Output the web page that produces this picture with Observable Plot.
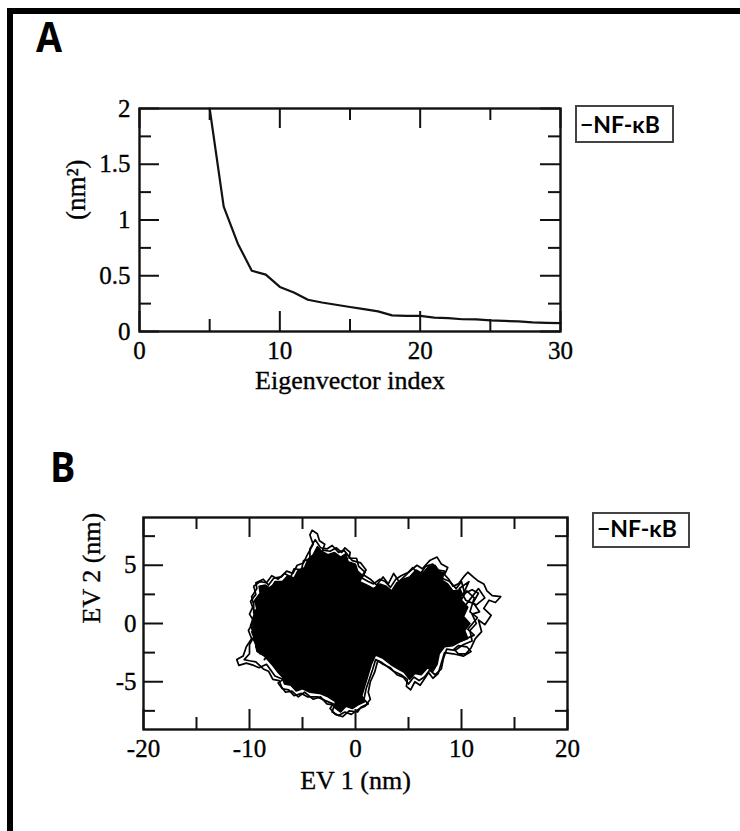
<!DOCTYPE html>
<html><head><meta charset="utf-8">
<script src="https://cdn.jsdelivr.net/npm/d3@7"></script>
<script src="https://cdn.jsdelivr.net/npm/@observablehq/plot@0.6"></script>
<style>
html,body{margin:0;padding:0;background:#fff;width:740px;height:831px;overflow:hidden;}
#page{position:relative;width:740px;height:831px;overflow:hidden;}
#frame{position:absolute;left:7px;top:8px;width:800px;height:900px;border-top:6px solid #000;border-left:6px solid #000;box-sizing:border-box;}
#page svg.plot{position:absolute;left:0;}
#overlay{position:absolute;left:0;top:0;}
</style>
</head><body>
<div id="page"><div id="frame"></div></div>
<script>
// ---------- Panel A data: eigenvalues ----------
const aIndex = [5,6,7,8,9,10,11,12,13,14,15,16,17,18,19,20,21,22,23,24,25,26,27,28,29,30];
const aValue = [2.0,1.12,0.79,0.545,0.51,0.40,0.35,0.285,0.26,0.24,0.22,0.20,0.18,0.145,0.14,0.14,0.125,0.12,0.11,0.108,0.10,0.095,0.09,0.082,0.078,0.075];
const aXMajor = [0,10,20,30];
const aXLabels = ["0","10","20","30"];
const aXMinor = [5,15,25];
const aYMajor = [0,0.5,1,1.5,2];
const aYLabels = ["0","0.5","1","1.5","2"];
const aYMinor = [0.25,0.75,1.25,1.75];
const aXTitle = "Eigenvector index";
const aYTitle = "(nm\u00B2)";

// ---------- Panel B data: projection on EV1/EV2 ----------
const bCoreX = [-9.7,-9.3,-9.5,-9.0,-9.1,-8.5,-8.0,-7.6,-6.9,-6.4,-5.8,-5.4,-4.8,-4.5,-4.0,-3.6,-3.2,-2.6,-2.0,-1.4,-0.9,-0.7,0.0,0.2,0.7,0.4,1.1,1.7,2.3,2.9,3.4,3.9,4.5,5.1,5.7,6.3,6.9,7.5,7.9,8.3,8.2,8.7,9.2,9.9,10.0,10.6,10.2,10.8,10.3,10.6,9.8,9.2,8.4,7.9,7.7,7.3,6.8,6.2,5.6,5.1,4.6,4.0,3.3,2.6,1.9,1.5,1.2,0.9,0.6,0.9,0.2,-0.3,-0.9,-1.4,-2.0,-1.9,-2.6,-3.4,-4.3,-5.0,-5.6,-6.1,-6.7,-6.9,-7.3,-7.8,-8.6,-9.3,-9.5,-9.8];
const bCoreY = [0.4,1.2,2.0,2.6,3.2,3.3,3.0,3.6,3.6,4.1,3.9,4.6,4.8,5.5,5.9,6.6,6.2,5.9,6.1,5.7,6.0,5.3,5.1,4.5,4.1,3.6,3.3,3.0,3.4,3.2,2.8,3.5,3.8,4.0,4.6,4.3,4.9,5.0,4.5,4.3,3.7,3.4,2.8,2.9,2.0,1.4,0.6,0.0,-0.6,-1.3,-1.6,-1.9,-2.0,-2.6,-3.5,-4.1,-3.8,-4.4,-4.3,-4.8,-4.2,-3.9,-3.5,-3.0,-2.7,-3.5,-4.4,-5.3,-6.2,-6.7,-7.0,-7.3,-7.1,-7.6,-7.2,-6.7,-6.3,-6.0,-5.9,-5.6,-5.8,-5.3,-5.2,-4.6,-4.2,-3.6,-2.8,-2.4,-1.4,-0.7];
const bRingX = [-9.9,-9.5,-9.9,-9.4,-9.6,-9.0,-8.4,-7.9,-7.3,-6.7,-6.1,-5.8,-5.1,-4.9,-4.3,-4.3,-3.8,-3.3,-2.7,-2.2,-1.6,-1.1,-0.3,0.5,1.0,0.7,1.4,2.0,2.6,3.1,3.6,4.1,4.8,5.4,6.0,6.6,7.3,7.6,8.4,8.1,8.9,9.5,10.0,10.3,11.0,11.6,11.1,11.7,11.0,11.4,10.8,11.0,10.2,9.4,8.6,8.3,8.1,7.5,7.0,6.5,6.0,5.5,5.0,4.5,3.9,3.3,2.6,2.1,1.8,1.4,1.2,1.4,0.9,0.4,-0.4,-1.0,-1.6,-2.2,-2.0,-2.7,-3.3,-4.0,-4.8,-5.4,-6.0,-6.6,-7.0,-7.2,-7.8,-8.2,-8.7,-9.4,-10.0,-10.5,-10.0,-10.0,-9.5,-9.9];
const bRingY = [-0.2,0.9,1.9,2.5,3.2,3.6,3.5,4.1,3.8,4.3,4.0,4.7,4.6,5.4,5.5,6.4,7.2,6.5,6.4,6.7,6.1,6.3,5.4,5.2,4.6,4.2,3.8,3.3,4.0,3.4,4.3,3.6,4.2,4.8,4.1,4.9,5.1,4.6,4.5,3.9,3.6,3.0,3.6,2.6,2.9,2.6,1.8,1.0,0.8,0.0,-0.6,-1.5,-1.8,-2.3,-2.2,-3.0,-3.9,-4.4,-4.0,-4.6,-4.9,-4.6,-5.2,-4.6,-4.4,-3.8,-3.5,-3.2,-4.2,-5.0,-5.9,-6.5,-7.1,-7.3,-7.8,-7.6,-7.9,-7.6,-7.0,-6.9,-6.3,-6.5,-5.9,-6.3,-5.8,-5.9,-5.4,-4.9,-4.8,-4.1,-3.9,-3.3,-3.2,-3.1,-2.6,-1.8,-1.0,-0.2];
const bTrajX = [-9.6,-10.0,-9.6,-9.8,-9.3,-9.4,-8.7,-8.2,-7.7,-7.0,-6.5,-5.9,-5.5,-4.9,-4.6,-4.0,-4.3,-4.1,-3.6,-3.4,-2.9,-3.1,-2.4,-1.8,-1.3,-1.0,-0.5,-0.6,0.1,0.3,0.9,0.6,1.2,1.7,2.3,2.8,3.3,3.8,4.3,5.0,5.8,6.3,7.0,7.7,8.1,8.7,8.4,8.8,9.2,9.7,10.2,10.6,11.1,11.5,12.1,12.4,12.9,13.7,13.2,12.6,12.1,12.8,12.2,11.6,11.9,11.3,10.9,10.4,9.7,9.3,9.7,10.5,10.9,10.2,9.2,8.4,8.1,7.8,7.3,6.9,6.4,6.1,5.6,5.2,4.8,4.9,4.3,3.6,3.0,2.4,1.9,1.6,1.3,1.0,0.8,1.2,0.5,0.2,-0.6,-1.2,-1.9,-2.4,-2.1,-2.9,-3.6,-4.5,-5.1,-5.8,-6.3,-6.9,-7.3,-6.8,-7.6,-8.0,-8.4,-9.1,-9.6,-10.3,-11.0,-11.2,-10.6,-10.3,-9.8,-10.1,-9.6,-9.0,-8.5,-8.9,-8.2,-8.6,-7.9,-8.4,-9.0,-9.4,-9.0,-9.6,-9.3,-9.6,-9.2,-9.6,-9.6,-8.8,-7.8,-8.4,-7.6,-6.8,-7.4,-8.1,-7.3];
const bTrajY = [0.2,0.8,1.6,2.3,3.0,3.5,3.8,3.3,3.9,4.0,4.5,4.3,5.0,5.2,5.8,6.8,7.6,8.0,7.7,7.1,6.8,6.3,6.2,6.5,6.1,6.5,6.1,5.6,5.6,4.9,4.4,3.9,3.6,3.4,3.8,3.6,3.1,3.8,4.1,4.4,5.0,4.7,5.4,5.7,5.1,4.8,4.2,3.8,3.2,3.4,4.0,4.4,4.0,3.7,3.4,2.8,2.4,2.3,1.8,2.0,1.3,0.7,-0.1,0.3,-0.7,-1.3,-2.1,-2.6,-2.6,-2.2,-1.9,-2.0,-2.4,-2.8,-2.6,-2.5,-3.4,-4.3,-4.7,-4.2,-4.9,-5.3,-5.0,-5.7,-5.4,-4.8,-4.4,-4.1,-3.7,-3.3,-3.1,-4.0,-4.8,-5.6,-6.5,-6.9,-7.2,-7.6,-7.5,-8.0,-7.8,-7.3,-6.9,-6.6,-6.3,-6.3,-6.0,-6.2,-5.7,-5.6,-5.1,-4.8,-4.5,-4.0,-3.5,-3.8,-3.6,-3.4,-3.6,-3.1,-2.8,-2.0,-1.3,-0.6,0.2,-0.5,-1.1,-2.0,-2.6,-3.1,-2.4,-1.6,-1.0,-2.0,-2.6,-1.4,-0.4,0.6,1.4,0.9,1.8,2.6,2.0,2.9,3.4,2.6,3.1,2.2,2.8];
const bLoopX = [9.6,10.5,11.2,10.8,11.5,10.6,11.2,10.2,9.5,9.9,10.4,11.6,12.2,11.4,10.4,9.8,10.7,10.1,9.4];
const bLoopY = [1.5,2.8,2.2,1.0,0.5,-0.5,-1.0,-1.4,-0.8,0.4,1.6,3.0,2.2,1.6,2.0,3.0,3.6,2.4,2.6];
const bXMajor = [-20,-10,0,10,20];
const bXLabels = ["-20","-10","0","10","20"];
const bXMinor = [-15,-5,5,15];
const bYMajor = [-5,0,5];
const bYLabels = ["-5","0","5"];
const bYMinor = [-7.5,-2.5,2.5,7.5];
const bXTitle = "EV 1 (nm)";
const bYTitle = "EV 2 (nm)";
const legendLabel = "\u2212NF-\u03BAB";

const serif = "'Liberation Serif','Times New Roman',serif";
const ink = "#111";

function ticks(fw, fh, xMaj, xMin, yMaj, yMin) {
  const L = 20, l = 12, sw = 2;
  return [
    Plot.ruleX(xMaj, {x: d => d, insetTop: fh - L, stroke: ink, strokeWidth: sw}),
    Plot.ruleX(xMaj, {x: d => d, insetBottom: fh - L, stroke: ink, strokeWidth: sw}),
    Plot.ruleX(xMin, {x: d => d, insetTop: fh - l, stroke: ink, strokeWidth: sw}),
    Plot.ruleX(xMin, {x: d => d, insetBottom: fh - l, stroke: ink, strokeWidth: sw}),
    Plot.ruleY(yMaj, {y: d => d, insetRight: fw - L, stroke: ink, strokeWidth: sw}),
    Plot.ruleY(yMaj, {y: d => d, insetLeft: fw - L, stroke: ink, strokeWidth: sw}),
    Plot.ruleY(yMin, {y: d => d, insetRight: fw - l, stroke: ink, strokeWidth: sw}),
    Plot.ruleY(yMin, {y: d => d, insetLeft: fw - l, stroke: ink, strokeWidth: sw}),
    Plot.frame({stroke: ink, strokeWidth: 2.4})
  ];
}
const txt = {fill: "#000", stroke: "#000", strokeWidth: 0.35};

// ---------- Panel A ----------
const A = {h: 420, ml: 139, mr: 180, mt: 108, mb: 89};
const aFw = 740 - A.ml - A.mr, aFh = A.h - A.mt - A.mb;
const aData = aIndex.map((x, i) => ({x, y: aValue[i]}));
const plotA = Plot.plot({
  width: 740, height: A.h,
  marginLeft: A.ml, marginRight: A.mr, marginTop: A.mt, marginBottom: A.mb,
  x: {domain: [0, 30], axis: null},
  y: {domain: [0, 2], axis: null},
  style: {fontFamily: serif, background: "transparent", color: ink, overflow: "visible"},
  marks: [
    Plot.line(aData, {x: "x", y: "y", stroke: ink, strokeWidth: 2.2}),
    ...ticks(aFw, aFh, aXMajor, aXMinor, aYMajor, aYMinor),
    Plot.text(aXMajor, {x: d => d, frameAnchor: "bottom", lineAnchor: "top", dy: 10, text: (d, i) => aXLabels[i], fontSize: 25, ...txt}),
    Plot.text(aYMajor, {y: d => d, frameAnchor: "left", textAnchor: "end", dx: -9, text: (d, i) => aYLabels[i], fontSize: 25, ...txt}),
    Plot.text([aXTitle], {frameAnchor: "bottom", dy: 57, text: d => d, fontSize: 26, ...txt}),
    Plot.text([aYTitle], {frameAnchor: "left", dx: -63, rotate: -90, text: d => d, fontSize: 27, ...txt})
  ]
});
plotA.classList.add("plot");
plotA.style.top = "0px";

// ---------- Panel B ----------
const B = {top: 420, h: 411, ml: 143, mr: 173, mt: 97, mb: 102};
const bFw = 740 - B.ml - B.mr, bFh = B.h - B.mt - B.mb;
const pts = (xs, ys) => xs.map((x, i) => ({x, y: ys[i]}));
const lineStyle = {stroke: "#000", strokeWidth: 1.7, strokeLinejoin: "round"};
const plotB = Plot.plot({
  width: 740, height: B.h,
  marginLeft: B.ml, marginRight: B.mr, marginTop: B.mt, marginBottom: B.mb,
  x: {domain: [-20, 20], axis: null},
  y: {domain: [-9.1, 9.1], axis: null},
  style: {fontFamily: serif, background: "transparent", color: ink, overflow: "visible"},
  marks: [
    Plot.line(pts(bCoreX, bCoreY), {x: "x", y: "y", fill: "#000", stroke: "#000", strokeWidth: 1.5, strokeLinejoin: "round"}),
    Plot.line(pts(bRingX, bRingY), {x: "x", y: "y", ...lineStyle}),
    Plot.line(pts(bTrajX, bTrajY), {x: "x", y: "y", ...lineStyle}),
    Plot.line(pts(bLoopX, bLoopY), {x: "x", y: "y", ...lineStyle}),
    ...ticks(bFw, bFh, bXMajor, bXMinor, bYMajor, bYMinor),
    Plot.text(bXMajor, {x: d => d, frameAnchor: "bottom", lineAnchor: "top", dy: 10, text: (d, i) => bXLabels[i], fontSize: 25, ...txt}),
    Plot.text(bYMajor, {y: d => d, frameAnchor: "left", textAnchor: "end", dx: -7, text: (d, i) => bYLabels[i], fontSize: 25, ...txt}),
    Plot.text([bXTitle], {frameAnchor: "bottom", dy: 59, text: d => d, fontSize: 26, ...txt}),
    Plot.text([bYTitle], {frameAnchor: "left", dx: -52, rotate: -90, text: d => d, fontSize: 26, ...txt})
  ]
});
plotB.classList.add("plot");
plotB.style.top = B.top + "px";

const page = document.getElementById("page");
page.appendChild(plotA);
page.appendChild(plotB);

// ---------- Panel letters and legends ----------
const ns = "http://www.w3.org/2000/svg";
const ov = document.createElementNS(ns, "svg");
ov.setAttribute("id", "overlay");
ov.setAttribute("width", 740); ov.setAttribute("height", 831);
function addText(str, x, y, size, family, sx) {
  const t = document.createElementNS(ns, "text");
  t.textContent = str;
  t.setAttribute("transform", `translate(${x},${y}) scale(${sx},1)`);
  t.setAttribute("font-family", family);
  t.setAttribute("font-weight", "700");
  t.setAttribute("font-size", size);
  t.setAttribute("fill", "#000");
  ov.appendChild(t);
}
function addLegend(x, y, w, h, tx, ty) {
  const r = document.createElementNS(ns, "rect");
  r.setAttribute("x", x); r.setAttribute("y", y);
  r.setAttribute("width", w); r.setAttribute("height", h);
  r.setAttribute("fill", "#fff"); r.setAttribute("stroke", "#444"); r.setAttribute("stroke-width", 2);
  ov.appendChild(r);
  addText(legendLabel, tx, ty, 23, "Lato, 'Open Sans', sans-serif", 1);
}
addText("A", 36, 52, 42, "'Open Sans', sans-serif", 0.9);
addText("B", 50, 482, 42, "'Open Sans', sans-serif", 0.9);
addLegend(576, 106, 97, 36, 580, 133);
addLegend(593, 513, 96, 34, 597, 537);
page.appendChild(ov);
</script>
</body></html>
